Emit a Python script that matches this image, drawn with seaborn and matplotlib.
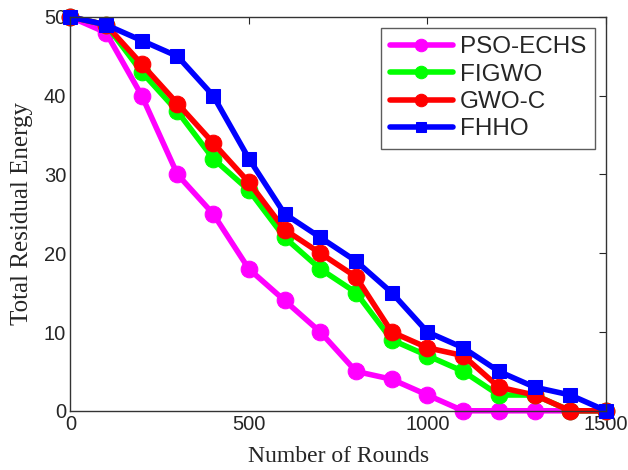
import pandas as pd
import matplotlib.pyplot as plt
import seaborn as sns

# data
rounds = [0, 100, 200, 300, 400, 500, 600, 700, 800, 900, 1000, 1100, 1200, 1300, 1400, 1500]
pso_echs = [50, 48, 40, 30, 25, 18, 14, 10, 5, 4, 2, 0, 0, 0, 0, 0]
figwo = [50, 49, 43, 38, 32, 28, 22, 18, 15, 9, 7, 5, 2, 2, 0, 0]
gwo_c = [50, 49, 44, 39, 34, 29, 23, 20, 17, 10, 8, 7, 3, 2, 0, 0]
fhho = [50, 49, 47, 45, 40, 32, 25, 22, 19, 15, 10, 8, 5, 3, 2, 0]

names = ['PSO-ECHS', 'FIGWO', 'GWO-C', 'FHHO']
series = [pso_echs, figwo, gwo_c, fhho]
colors = ['#ff00ff', '#00ff00', '#ff0000', '#0000ff']
markers = ['o', 'o', 'o', 's']

df = pd.concat([pd.DataFrame({'Rounds': rounds, 'Energy': s, 'Method': n})
                for n, s in zip(names, series)])

sns.set_style('white')
plt.rcParams['font.family'] = ['Liberation Sans', 'DejaVu Sans']

fig, ax = plt.subplots(figsize=(6.28, 4.70), dpi=100)
fig.subplots_adjust(left=0.112, right=0.965, top=0.964, bottom=0.126)

for n, c, m in zip(names, colors, markers):
    sns.lineplot(data=df[df.Method == n], x='Rounds', y='Energy', color=c,
                 marker=m, markersize=12 if m == 'o' else 10, linewidth=4,
                 markeredgecolor=c, label=n, ax=ax, clip_on=False)

ax.set_xlim(0, 1500)
ax.set_ylim(0, 50)
ax.set_xticks([0, 500, 1000, 1500])
ax.set_yticks([0, 10, 20, 30, 40, 50])
ax.tick_params(direction='in', top=True, right=True, labelsize=14.5, length=5, width=0.8, pad=3)
for s in ax.spines.values():
    s.set_color('#333333')
    s.set_linewidth(1)

ax.set_xlabel('Number of Rounds', family=['Liberation Serif'], fontsize=17, labelpad=9)
ax.set_ylabel('Total Residual Energy', family=['Liberation Serif'], fontsize=18, labelpad=8)

leg = ax.legend(loc='upper right', fontsize=17.5, frameon=True, fancybox=False,
                edgecolor='#333333', handlelength=2.6, handletextpad=0.3,
                borderpad=0.35, labelspacing=0.22, borderaxespad=0.45,
                markerscale=0.75)
leg.get_frame().set_linewidth(1)

plt.savefig('out.png', dpi=100)
